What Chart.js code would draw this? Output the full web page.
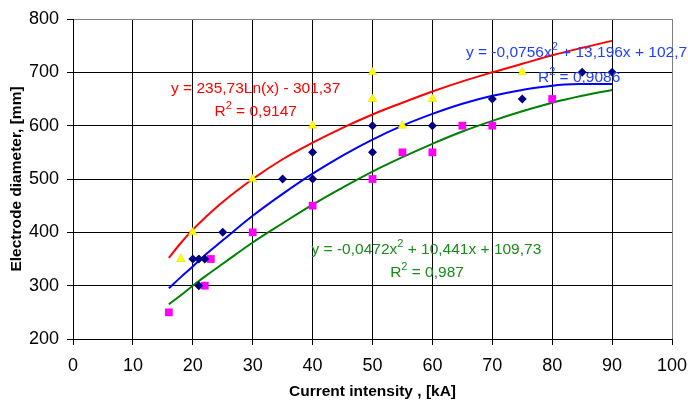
<!DOCTYPE html>
<html>
<head>
<meta charset="utf-8">
<script src="https://cdn.jsdelivr.net/npm/chart.js@4.4.1/dist/chart.umd.min.js"></script>
<style>
  html, body { margin: 0; padding: 0; background: #fff; }
</style>
</head>
<body>
<canvas id="myChart" width="688" height="403"></canvas>
<script>
// measured points
var yellowX = [18, 20, 30, 40, 50, 50, 55, 60, 75];
var yellowY = [350, 400, 500, 600, 650, 700, 600, 650, 700];

var navyX = [20, 21, 21, 22, 25, 35, 40, 40, 50, 50, 60, 70, 75, 85, 90];
var navyY = [350, 350, 300, 350, 400, 500, 500, 550, 550, 600, 600, 650, 650, 700, 700];

var magentaX = [16, 22, 23, 30, 40, 50, 55, 60, 65, 70, 80];
var magentaY = [250, 300, 350, 400, 450, 500, 550, 550, 600, 600, 650];

// trend lines
var trendX = [16, 18, 20, 22, 25, 30, 35, 40, 45, 50, 55, 60, 65, 70, 75, 80, 85, 90];
var redTrend = [352, 380, 405, 427, 457, 500, 537, 568, 596, 621, 643, 664, 683, 700, 716, 732, 746, 759];
var blueTrend = [295, 316, 336, 357, 385, 431, 472, 510, 544, 574, 600, 622, 641, 656, 667, 675, 678, 678];
var greenTrend = [265, 282, 300, 317, 341, 381, 417, 452, 484, 514, 541, 566, 589, 609, 627, 643, 656, 667];

var xTicks = [0, 10, 20, 30, 40, 50, 60, 70, 80, 90, 100];
var yTicks = [200, 300, 400, 500, 600, 700, 800];

function pts(xs, ys) {
  return xs.map(function(x, i) { return { x: x, y: ys[i] }; });
}

var FONT = 'Arial, "Liberation Sans", sans-serif';
var NARROW = '"Liberation Sans Narrow", "Arial Narrow", Arial, sans-serif';

// equation labels, parts flagged sup are drawn as superscript
var labels = [
  { x: 30.5, y: 669, color: '#ff0000', parts: [['y = 235,73Ln(x) - 301,37']] },
  { x: 30.5, y: 626, color: '#ff0000', parts: [['R'], ['2', true], [' = 0,9147']] },
  { x: 65.6, y: 737, color: '#1f3fff', align: 'left', parts: [['y = -0,0756x'], ['2', true], [' + 13,196x + 102,75']] },
  { x: 84.5, y: 690, color: '#1f3fff', parts: [['R'], ['2', true], [' = 0,9086']] },
  { x: 59.0, y: 367, color: '#1a8a1a', parts: [['y = -0,0472x'], ['2', true], [' + 10,441x + 109,73']] },
  { x: 59.1, y: 324, color: '#1a8a1a', parts: [['R'], ['2', true], [' = 0,987']] }
];

var equationLabels = {
  id: 'equationLabels',
  afterDatasetsDraw: function(chart) {
    var c = chart.ctx;
    var xs = chart.scales.x, ys = chart.scales.y;
    c.save();
    c.textBaseline = 'middle';
    c.textAlign = 'left';
    labels.forEach(function(l) {
      var widths = l.parts.map(function(p) {
        c.font = (p[1] ? '11px ' : '15.5px ') + FONT;
        return c.measureText(p[0]).width;
      });
      var total = widths.reduce(function(a, b) { return a + b; }, 0);
      var px = xs.getPixelForValue(l.x);
      var py = ys.getPixelForValue(l.y);
      if (l.align !== 'left') px -= total / 2;
      c.fillStyle = l.color;
      l.parts.forEach(function(p, i) {
        c.font = (p[1] ? '11px ' : '15.5px ') + FONT;
        c.fillText(p[0], px, p[1] ? py - 6 : py);
        px += widths[i];
      });
    });
    c.restore();
  }
};

var ctx = document.getElementById('myChart').getContext('2d');
var myChart = new Chart(ctx, {
  type: 'scatter',
  data: {
    datasets: [
      { data: pts(navyX, navyY), pointStyle: 'rectRot', pointRadius: 4.5, backgroundColor: '#000080', borderColor: '#000080', borderWidth: 0 },
      { data: pts(yellowX, yellowY), pointStyle: 'triangle', pointRadius: 5, backgroundColor: '#ffff00', borderColor: '#d8d800', borderWidth: 0.5 },
      { data: pts(magentaX, magentaY), pointStyle: 'rect', pointRadius: 5.5, backgroundColor: '#ff00ff', borderColor: '#ff00ff', borderWidth: 0 },
      { data: pts(trendX, redTrend), showLine: true, pointRadius: 0, borderColor: '#ff0000', borderWidth: 2, tension: 0.4 },
      { data: pts(trendX, blueTrend), showLine: true, pointRadius: 0, borderColor: '#0000ff', borderWidth: 2, tension: 0.4 },
      { data: pts(trendX, greenTrend), showLine: true, pointRadius: 0, borderColor: '#008000', borderWidth: 2, tension: 0.4 }
    ]
  },
  options: {
    responsive: false,
    animation: false,
    layout: { padding: { top: 19, right: 16, left: 0, bottom: 0 } },
    plugins: { legend: { display: false }, tooltip: { enabled: false } },
    scales: {
      x: {
        type: 'linear', min: 0, max: 100,
        afterBuildTicks: function(axis) { axis.ticks = xTicks.map(function(v) { return { value: v }; }); },
        afterFit: function(axis) {
          axis.height = 64;
          axis.paddingLeft = 0;
          axis.paddingRight = 0;
        },
        ticks: { color: '#000', font: { family: NARROW, size: 18 }, padding: 10, maxRotation: 0 },
        grid: {
          color: function(c) { return c.tick && c.tick.value === 100 ? '#808080' : '#000'; },
          tickColor: '#000', tickLength: 6, lineWidth: 1
        },
        border: { color: '#000' },
        title: { display: true, text: 'Current intensity , [kA]', color: '#000', font: { family: FONT, size: 15.5, weight: 'bold' }, padding: { top: 0, bottom: 2 } }
      },
      y: {
        type: 'linear', min: 200, max: 800,
        afterBuildTicks: function(axis) { axis.ticks = yTicks.map(function(v) { return { value: v }; }); },
        afterFit: function(axis) {
          axis.width = 73;
          axis.paddingTop = 0;
          axis.paddingBottom = 0;
        },
        ticks: { color: '#000', font: { family: NARROW, size: 18 }, padding: 8 },
        grid: {
          color: function(c) { return c.tick && c.tick.value === 800 ? '#808080' : '#000'; },
          tickColor: '#000', tickLength: 6, lineWidth: 1
        },
        border: { color: '#000' },
        title: { display: true, text: 'Electrode diameter, [mm]', color: '#000', font: { family: FONT, size: 15.5, weight: 'bold' }, padding: { top: 7, bottom: 0 } }
      }
    }
  },
  plugins: [equationLabels]
});
</script>
</body>
</html>
